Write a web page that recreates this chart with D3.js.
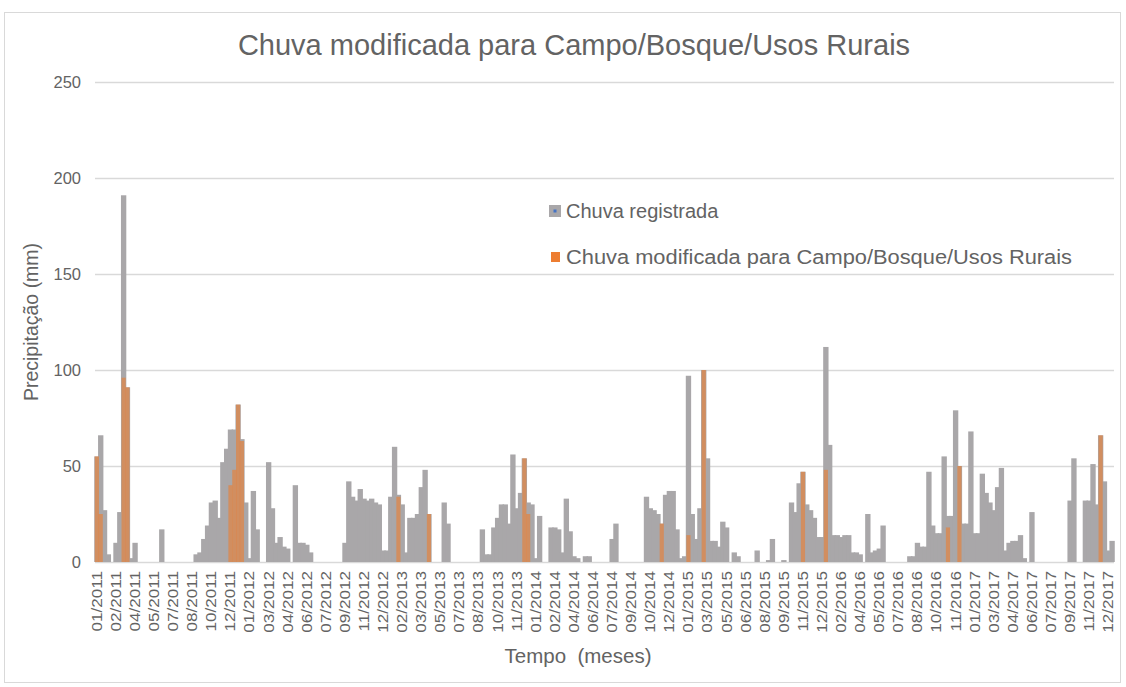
<!DOCTYPE html>
<html>
<head>
<meta charset="utf-8">
<script src="https://cdn.jsdelivr.net/npm/d3@7"></script>
<style>
  body { margin: 0; background: #fff; }
  text { font-family: "Liberation Sans", Arial, sans-serif; fill: #636363; }
</style>
</head>
<body>
<div id="chart"></div>
<script>
// tick labels shown on the category axis (one every 5 categories)
var monthLabels = ["01/2011", "02/2011", "04/2011", "05/2011", "07/2011", "08/2011", "10/2011", "12/2011",
    "01/2012", "03/2012", "04/2012", "06/2012", "07/2012", "09/2012", "11/2012", "12/2012",
    "02/2013", "03/2013", "05/2013", "07/2013", "08/2013", "10/2013", "11/2013",
    "01/2014", "02/2014", "04/2014", "06/2014", "07/2014", "09/2014", "10/2014", "12/2014",
    "01/2015", "03/2015", "05/2015", "06/2015", "08/2015", "09/2015", "11/2015", "12/2015",
    "02/2016", "04/2016", "05/2016", "07/2016", "08/2016", "10/2016", "11/2016",
    "01/2017", "03/2017", "04/2017", "06/2017", "07/2017", "09/2017", "11/2017", "12/2017"];

var labelEvery = 5;

// chuva registrada (mm), one value per category
var recorded = [
    55, 66, 27, 4, 0, 10, 26, 191, 91, 2, 10, 0, 0, 0, 0, 0, 0, 17, 0, 0,
    0, 0, 0, 0, 0, 0, 4, 5, 12, 19, 31, 32, 23, 52, 59, 69, 69, 82, 64, 31,
    2, 37, 17, 0, 0, 52, 28, 10, 13, 8, 7, 0, 40, 10, 10, 9, 5, 0, 0, 0,
    0, 0, 0, 0, 0, 10, 42, 34, 32, 38, 33, 32, 33, 31, 30, 6, 6, 34, 60, 35,
    30, 5, 23, 23, 25, 39, 48, 25, 0, 0, 0, 31, 20, 0, 0, 0, 0, 0, 0, 0,
    0, 17, 4, 4, 18, 23, 30, 30, 20, 56, 28, 36, 54, 31, 30, 2, 24, 0, 0, 18,
    18, 17, 5, 33, 16, 3, 2, 0, 3, 3, 0, 0, 0, 0, 0, 12, 20, 0, 0, 0,
    0, 0, 0, 0, 34, 28, 27, 25, 20, 35, 37, 37, 17, 2, 3, 97, 25, 12, 28, 100,
    54, 11, 11, 8, 21, 18, 0, 5, 3, 0, 0, 0, 0, 6, 0, 0, 1, 12, 0, 0,
    1, 0, 31, 26, 41, 47, 30, 27, 23, 13, 13, 112, 61, 14, 14, 13, 14, 14, 5, 5,
    4, 0, 25, 5, 6, 7, 19, 0, 0, 0, 0, 0, 0, 3, 3, 10, 8, 8, 47, 19,
    15, 15, 55, 24, 24, 79, 50, 20, 20, 68, 15, 15, 46, 36, 31, 27, 39, 49, 6, 10,
    11, 11, 14, 2, 0, 26, 0, 0, 0, 0, 0, 0, 0, 0, 0, 32, 54, 0, 0, 32,
    32, 51, 30, 66, 42, 6, 11
];

// chuva modificada para Campo/Bosque/Usos Rurais (mm), same categories
var modified = [
    55, 25, 0, 0, 0, 0, 0, 96, 91, 0, 0, 0, 0, 0, 0, 0, 0, 0, 0, 0,
    0, 0, 0, 0, 0, 0, 0, 0, 0, 0, 0, 0, 0, 0, 0, 40, 48, 82, 63, 0,
    0, 0, 0, 0, 0, 0, 0, 0, 0, 0, 0, 0, 0, 0, 0, 0, 0, 0, 0, 0,
    0, 0, 0, 0, 0, 0, 0, 0, 0, 0, 0, 0, 0, 0, 0, 0, 0, 0, 0, 34,
    0, 0, 0, 0, 0, 0, 0, 25, 0, 0, 0, 0, 0, 0, 0, 0, 0, 0, 0, 0,
    0, 0, 0, 0, 0, 0, 0, 0, 0, 0, 0, 0, 54, 25, 0, 0, 0, 0, 0, 0,
    0, 0, 0, 0, 0, 0, 0, 0, 0, 0, 0, 0, 0, 0, 0, 0, 0, 0, 0, 0,
    0, 0, 0, 0, 0, 0, 0, 0, 20, 0, 0, 0, 0, 0, 0, 14, 0, 0, 0, 100,
    0, 0, 0, 0, 0, 0, 0, 0, 0, 0, 0, 0, 0, 0, 0, 0, 0, 0, 0, 0,
    0, 0, 0, 0, 0, 47, 0, 0, 0, 0, 0, 48, 0, 0, 0, 0, 0, 0, 0, 0,
    0, 0, 0, 0, 0, 0, 0, 0, 0, 0, 0, 0, 0, 0, 0, 0, 0, 0, 0, 0,
    0, 0, 0, 18, 0, 0, 50, 0, 0, 0, 0, 0, 0, 0, 0, 0, 0, 0, 0, 0,
    0, 0, 0, 0, 0, 0, 0, 0, 0, 0, 0, 0, 0, 0, 0, 0, 0, 0, 0, 0,
    0, 0, 0, 66, 0, 0, 0
];

var yTicks = [0, 50, 100, 150, 200, 250];
var seriesNames = ["Chuva registrada", "Chuva modificada para Campo/Bosque/Usos Rurais"];

var svgWidth = 1126;
var svgHeight = 687;

var margin = { top: 82, right: 12, bottom: 125, left: 95 };
var width = svgWidth - margin.left - margin.right;
var height = svgHeight - margin.top - margin.bottom;

var svg = d3.select("#chart")
    .append("svg")
    .attr("width", svgWidth)
    .attr("height", svgHeight);

// chart frame
svg.append("rect")
    .attr("x", 4.5).attr("y", 12.5)
    .attr("width", 1116).attr("height", 670)
    .attr("fill", "#fff")
    .attr("stroke", "#d9d9d9");

var chartGroup = svg.append("g")
    .attr("transform", `translate(${margin.left}, ${margin.top})`);

/********************************************************/

var categories = d3.range(recorded.length);

var xBandScale = d3.scaleBand()
    .domain(categories)
    .range([0, width])
    .padding(0);

var yLinearScale = d3.scaleLinear()
    .domain([0, 250])
    .range([height, 0]);

/********************************************************/

// gridlines
chartGroup.append("g")
    .call(d3.axisLeft(yLinearScale).tickValues(yTicks).tickSize(-width).tickFormat(""))
    .call(g => g.select(".domain").remove())
    .call(g => g.selectAll("line").attr("stroke", "#d9d9d9").attr("stroke-width", 1.5));

// y tick labels
chartGroup.append("g")
    .call(d3.axisLeft(yLinearScale).tickValues(yTicks).tickSize(0).tickPadding(14))
    .call(g => g.select(".domain").remove())
    .call(g => g.selectAll("text")
        .attr("font-size", 16.5)
        .attr("font-family", "'Liberation Sans', Arial, sans-serif")
        .attr("fill", "#636363"));

/********************************************************/

var bw = xBandScale.bandwidth();

chartGroup.selectAll(".rec")
    .data(categories.filter(i => recorded[i] > 0))
    .enter()
    .append("rect")
    .attr("class", "rec")
    .attr("x", i => xBandScale(i) - bw * 0.2)
    .attr("width", bw * 1.4)
    .attr("y", i => yLinearScale(recorded[i]))
    .attr("height", i => height - yLinearScale(recorded[i]))
    .attr("fill", "#a9a7a9");

chartGroup.selectAll(".mod")
    .data(categories.filter(i => modified[i] > 0))
    .enter()
    .append("rect")
    .attr("class", "mod")
    .attr("x", i => xBandScale(i) - bw * 0.05)
    .attr("width", bw * 1.1)
    .attr("y", i => yLinearScale(modified[i]))
    .attr("height", i => height - yLinearScale(modified[i]))
    .attr("fill", "#ed7d31")
    .attr("opacity", 0.6);

/********************************************************/

// category labels, one every labelEvery categories
var labelled = categories.filter(i => i % labelEvery === 0);

chartGroup.selectAll(".xlabel")
    .data(labelled)
    .enter()
    .append("text")
    .attr("class", "xlabel")
    .attr("transform", i => `translate(${xBandScale(i) + bw / 2}, ${height + 9}) rotate(-90) scale(1.22, 1)`)
    .attr("text-anchor", "end")
    .attr("dy", "0.35em")
    .attr("font-size", 14)
    .text(i => monthLabels[i / labelEvery]);

/********************************************************/

svg.append("text")
    .attr("x", 574)
    .attr("y", 55)
    .attr("text-anchor", "middle")
    .attr("font-size", 29)
    .text("Chuva modificada para Campo/Bosque/Usos Rurais");

svg.append("text")
    .attr("transform", `translate(38, ${margin.top + height / 2}) rotate(-90)`)
    .attr("text-anchor", "middle")
    .attr("font-size", 19.5)
    .text("Precipitação (mm)");

svg.append("text")
    .attr("x", 578)
    .attr("y", 663)
    .attr("text-anchor", "middle")
    .attr("font-size", 20.5)
    .attr("xml:space", "preserve")
    .text("Tempo  (meses)");

/********************************************************/

// legend
var legend = svg.append("g");

legend.append("rect")
    .attr("x", 549).attr("y", 205).attr("width", 12).attr("height", 12)
    .attr("fill", "#a9a7a9");
legend.append("rect")
    .attr("x", 553.5).attr("y", 209.5).attr("width", 3).attr("height", 3)
    .attr("fill", "#4472c4");
legend.append("text")
    .attr("x", 566).attr("y", 218)
    .attr("font-size", 20)
    .text(seriesNames[0]);

legend.append("rect")
    .attr("x", 551).attr("y", 252).attr("width", 9).attr("height", 10)
    .attr("fill", "#ed7d31");
legend.append("text")
    .attr("x", 566).attr("y", 264)
    .attr("font-size", 20)
    .attr("textLength", 506)
    .attr("lengthAdjust", "spacingAndGlyphs")
    .text(seriesNames[1]);
</script>
</body>
</html>
